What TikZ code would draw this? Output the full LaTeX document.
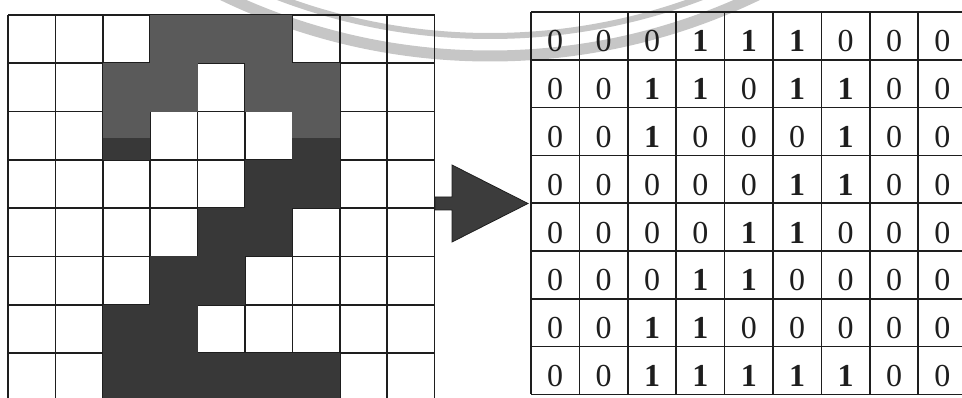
\documentclass[tikz,border=0pt]{standalone}
\usepackage{fontspec}
\setmainfont{Liberation Serif}
\definecolor{lineC}{HTML}{1E1E1E}
\definecolor{darkA}{HTML}{5A5A5A}
\definecolor{darkB}{HTML}{383838}
\definecolor{wm}{HTML}{C6C6C6}
\definecolor{arrowC}{HTML}{3C3C3C}
\begin{document}
\begin{tikzpicture}[x=1pt,y=-1pt,
  gridline/.style={draw=lineC,line width=1.7pt},
  digit/.style={anchor=base,inner sep=0pt,font=\fontsize{32}{32}\selectfont,text=lineC}]
\def\LX{8}\def\LW{47.4}\def\LY{15}\def\LH{48.3}
\def\RX{531}\def\RW{48.4}\def\RY{12}\def\RH{47.8}
\useasboundingbox (0,0) rectangle (962,398);
\begin{scope}
\clip (0,0) rectangle (962,398);
% faint watermark rings
\draw[wm,line width=11pt] (490,-560) circle[radius=616];
\draw[wm,line width=6pt] (490,-560) circle[radius=596];
% left grid
\foreach \i in {0,...,9}
  \draw[gridline] ({\LX+\i*\LW},\LY) -- ({\LX+\i*\LW},{\LY+8*\LH});
\foreach \j in {0,...,8}
  \draw[gridline] (\LX,{\LY+\j*\LH}) -- ({\LX+9*\LW},{\LY+\j*\LH});
% dark cells
\foreach \r/\c in {0/3,0/4,0/5,1/2,1/3,1/5,1/6,2/2,2/6,3/5,3/6,4/4,4/5,5/3,5/4,6/2,6/3,7/2,7/3,7/4,7/5,7/6}
  \fill[darkB] ({\LX+\c*\LW},{\LY+\r*\LH}) rectangle ({\LX+(\c+1)*\LW},{\LY+(\r+1)*\LH});
\begin{scope}
\clip (0,0) rectangle (962,138);
\foreach \r/\c in {0/3,0/4,0/5,1/2,1/3,1/5,1/6,2/2,2/6}
  \fill[darkA] ({\LX+\c*\LW},{\LY+\r*\LH}) rectangle ({\LX+(\c+1)*\LW},{\LY+(\r+1)*\LH});
\end{scope}
% right grid
\foreach \i in {0,...,9}
  \draw[gridline] ({\RX+\i*\RW},\RY) -- ({\RX+\i*\RW},{\RY+8*\RH});
\foreach \j in {0,...,8}
  \draw[gridline] (\RX,{\RY+\j*\RH}) -- ({\RX+9*\RW},{\RY+\j*\RH});
\foreach \row [count=\r from 0] in {{0,0,0,1,1,1,0,0,0},{0,0,1,1,0,1,1,0,0},{0,0,1,0,0,0,1,0,0},{0,0,0,0,0,1,1,0,0},{0,0,0,0,1,1,0,0,0},{0,0,0,1,1,0,0,0,0},{0,0,1,1,0,0,0,0,0},{0,0,1,1,1,1,1,0,0}}
  \foreach \v [count=\c from 0] in \row
    \node[digit] (d-\r-\c) at ({\RX+(\c+0.5)*\RW},{\RY+\r*\RH+40}) {\ifnum\v=1 \bfseries\fi\v};
% block arrow
\filldraw[fill=arrowC,draw=lineC,line width=0.8pt,line join=miter]
  (435,197) -- (452,197) -- (452,165) -- (528,203.5) -- (452,242) -- (452,210) -- (435,210) -- cycle;
\end{scope}
\end{tikzpicture}
\end{document}
